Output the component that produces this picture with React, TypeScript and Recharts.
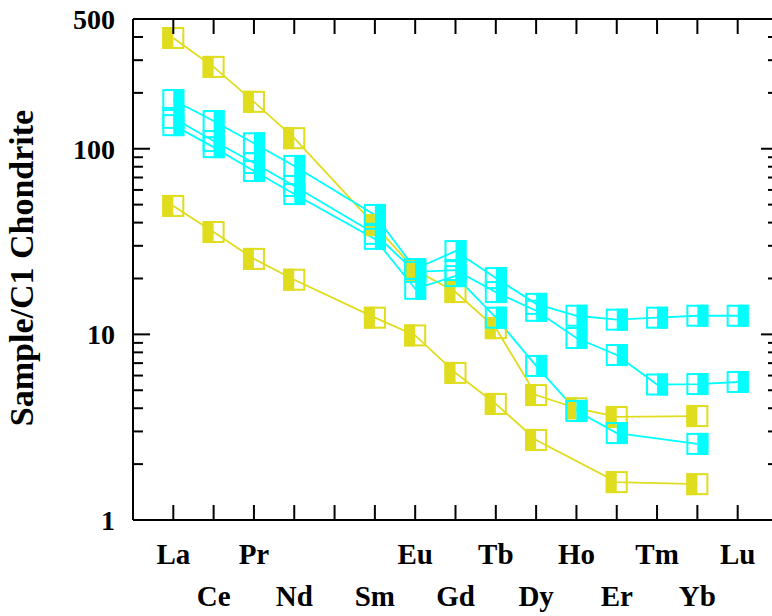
import React from 'react';
import { ComposedChart, Line, XAxis, YAxis } from 'recharts';

// Categories (Pm has no data and no label)
const ELEMENTS = ['La', 'Ce', 'Pr', 'Nd', 'Pm', 'Sm', 'Eu', 'Gd', 'Tb', 'Dy', 'Ho', 'Er', 'Tm', 'Yb', 'Lu'];
const ELEMENT_LABELS = ['La', 'Ce', 'Pr', 'Nd', '', 'Sm', 'Eu', 'Gd', 'Tb', 'Dy', 'Ho', 'Er', 'Tm', 'Yb', 'Lu'];
const X_TICKS = [1, 2, 3, 4, 5, 6, 7, 8, 9, 10, 11, 12, 13, 14, 15];

// Y axis ticks
const Y_TICKS = [1, 2, 3, 4, 5, 6, 7, 8, 9, 10, 20, 30, 40, 50, 60, 70, 80, 90, 100, 200, 300, 400, 500];
const Y_LABELED = [1, 10, 100, 500];
const Y_MAJOR = [10, 100];

// Sample series (chondrite normalised)
const YELLOW_HIGH = [395, 276, 179, 114, null, 38.8, 22.2, 16.9, 10.8, 4.71, 4.0, 3.59, null, 3.63, null];
const YELLOW_LOW = [49.2, 35.6, 25.5, 19.7, null, 12.3, 9.87, 6.2, 4.22, 2.7, null, 1.6, null, 1.56, null];
const CYAN_A = [183, 141, 107, 80.8, null, 44, 22.5, 28.1, 20.1, 14.6, 12.6, 12.0, 12.3, 12.6, 12.6];
const CYAN_B = [146.6, 110, 83.8, 63, null, 34.8, 21.7, 22.2, 16.9, 13.4, 9.56, 7.74, 5.37, 5.4, 5.54];
const CYAN_C = [134, 102, 75.9, 57, null, 32.7, 17.6, 20.6, 12.3, 6.76, 3.87, 2.94, null, 2.57, null];

const YELLOW = '#E0DC1E';
const CYAN = '#00FFFF';
const FONT = "'Liberation Serif', 'Times New Roman', serif";

const SERIES = [
  { key: 'yh', values: YELLOW_HIGH, color: YELLOW, filled: 'left' },
  { key: 'yl', values: YELLOW_LOW, color: YELLOW, filled: 'left' },
  { key: 'ca', values: CYAN_A, color: CYAN, filled: 'right' },
  { key: 'cb', values: CYAN_B, color: CYAN, filled: 'right' },
  { key: 'cc', values: CYAN_C, color: CYAN, filled: 'right' },
];

const data = ELEMENTS.map((el, i) => {
  const row: any = { x: X_TICKS[i], el };
  SERIES.forEach((s) => {
    row[s.key] = s.values[i];
  });
  return row;
});

const makeDot = (color: string, filled: string) => (props: any) => {
  const { cx, cy, value, index } = props;
  if (cx == null || cy == null || value == null || isNaN(cx) || isNaN(cy)) {
    return <g key={`d-${index}`} />;
  }
  return (
    <g key={`d-${index}`}>
      <rect x={filled === 'left' ? cx - 11 : cx} y={cy - 11} width={11} height={22} fill={color} />
      <rect x={cx - 10} y={cy - 10} width={20} height={20} fill="none" stroke={color} strokeWidth={2} />
    </g>
  );
};

const BottomTick = (props: any) => {
  const { x, y, payload } = props;
  const i = payload.value - 1;
  const row = i % 2 === 0 ? 44 : 86;
  return (
    <g>
      <line x1={x} x2={x} y1={y} y2={y - 15} stroke="#000" strokeWidth={2} />
      <text x={x} y={y + row} textAnchor="middle" fontFamily={FONT} fontWeight="bold" fontSize={29} fill="#000">
        {ELEMENT_LABELS[i]}
      </text>
    </g>
  );
};

const TopTick = (props: any) => {
  const { x, y } = props;
  return <line x1={x} x2={x} y1={y} y2={y + 15} stroke="#000" strokeWidth={2} />;
};

const tickLen = (v: number) => (v === 1 || v === 500 ? 0 : Y_MAJOR.includes(v) ? 17 : 10);

const LeftTick = (props: any) => {
  const { x, y, payload } = props;
  const v = payload.value;
  const len = tickLen(v);
  return (
    <g>
      {len > 0 && <line x1={x} x2={x + len} y1={y} y2={y} stroke="#000" strokeWidth={2} />}
      {Y_LABELED.includes(v) && (
        <text x={x - 18} y={y + 10} textAnchor="end" fontFamily={FONT} fontWeight="bold" fontSize={28} fill="#000">
          {String(v)}
        </text>
      )}
    </g>
  );
};

const RightTick = (props: any) => {
  const { x, y, payload } = props;
  const len = tickLen(payload.value);
  return len > 0 ? <line x1={x} x2={x - len} y1={y} y2={y} stroke="#000" strokeWidth={2} /> : <g />;
};

const renderTitle = () => (
  <text
    x={33}
    y={268}
    transform="rotate(-90 33 268)"
    textAnchor="middle"
    fontFamily={FONT}
    fontWeight="bold"
    fontSize={34}
    fill="#000"
  >
    Sample/C1 Chondrite
  </text>
);

export default function App() {
  return (
    <div style={{ position: 'absolute', left: 0, top: 0 }}>
      <ComposedChart width={788} height={616} data={data} margin={{ top: 18, right: 0, bottom: 0, left: 0 }}>
        <XAxis
          xAxisId="b"
          dataKey="x"
          type="number"
          domain={[0, 16]}
          ticks={X_TICKS}
          allowDataOverflow
          height={96}
          tickSize={0}
          tickMargin={0}
          tickLine={false}
          axisLine={{ stroke: '#000', strokeWidth: 2 }}
          tick={<BottomTick />}
          interval={0}
        />
        <XAxis
          xAxisId="t"
          orientation="top"
          dataKey="x"
          type="number"
          domain={[0, 16]}
          ticks={X_TICKS}
          allowDataOverflow
          height={1}
          tickSize={0}
          tickMargin={0}
          tickLine={false}
          axisLine={{ stroke: '#000', strokeWidth: 2 }}
          tick={<TopTick />}
          interval={0}
        />
        <YAxis
          yAxisId="l"
          scale="log"
          domain={[1, 500]}
          ticks={Y_TICKS}
          allowDataOverflow
          width={133}
          tickSize={0}
          tickMargin={0}
          tickLine={false}
          axisLine={{ stroke: '#000', strokeWidth: 2 }}
          tick={<LeftTick />}
          interval={0}
          label={renderTitle}
        />
        <YAxis
          yAxisId="r"
          orientation="right"
          scale="log"
          domain={[1, 500]}
          ticks={Y_TICKS}
          allowDataOverflow
          width={10}
          tickSize={0}
          tickMargin={0}
          tickLine={false}
          axisLine={{ stroke: '#000', strokeWidth: 2 }}
          tick={<RightTick />}
          interval={0}
        />
        {SERIES.map((s) => (
          <Line
            key={s.key}
            xAxisId="b"
            yAxisId="l"
            dataKey={s.key}
            type="linear"
            stroke={s.color}
            strokeWidth={1.8}
            connectNulls
            dot={makeDot(s.color, s.filled)}
            activeDot={false}
            isAnimationActive={false}
          />
        ))}
      </ComposedChart>
    </div>
  );
}
